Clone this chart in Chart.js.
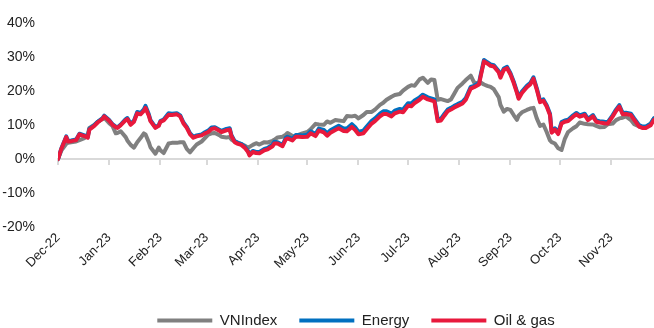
<!DOCTYPE html>
<html lang="en">
<head>
    <meta charset="UTF-8">
    <title>VNIndex vs Energy vs Oil & gas</title>
    <script src="https://cdn.jsdelivr.net/npm/chart.js"></script>
    <style>
        html, body { margin: 0; padding: 0; background: #fff; overflow: hidden; }
        .chart-box { position: relative; width: 654px; height: 328px; }
    </style>
</head>
<body>
    <div class="chart-box"><canvas id="perfChart"></canvas></div>

    <script>
        // days since 1 Dec 2022
        const days = [0, 2, 5, 6, 8, 11, 13, 16, 18, 19, 22, 24, 27, 28, 31, 33, 35, 36, 38, 41,
            42, 44, 46, 48, 50, 52, 53, 55, 56, 59, 61, 62, 64, 67, 69, 72, 74, 76, 78, 80,
            82, 84, 87, 89, 91, 93, 95, 98, 99, 102, 104, 105, 107, 109, 111, 113, 115, 116, 118, 120,
            122, 125, 127, 130, 131, 133, 136, 138, 139, 142, 144, 146, 148, 151, 153, 156, 158, 161, 163, 165,
            168, 170, 173, 175, 178, 180, 182, 185, 187, 190, 192, 195, 197, 199, 202, 204, 207, 209, 212, 214,
            216, 219, 221, 224, 226, 228, 230, 232, 234, 236, 238, 240, 242, 245, 247, 250, 252, 255, 256, 258,
            260, 262, 264, 267, 268, 270, 272, 274, 276, 278, 279, 281, 284, 286, 288, 290, 292, 294, 296, 298,
            299, 301, 303, 305, 307, 309, 312, 314, 316, 319, 321, 324, 326, 328, 331, 333, 336, 338, 340, 342,
            344, 347, 349, 352, 354, 356, 359, 361];

        const vnIndex = [0, 2.5, 4.5, 4.8, 5.0, 5.2, 5.6, 6.2, 7.2, 9.2, 10.1, 11.0, 11.8, 12.2, 10.6, 9.8, 7.6, 7.7, 8.2, 6.5,
            5.5, 4.2, 3.4, 5.0, 6.2, 7.6, 7.3, 5.0, 3.5, 1.6, 3.4, 2.6, 1.8, 4.6, 4.8, 4.8, 5.0, 5.0, 3.0, 2.0,
            3.2, 4.3, 5.2, 6.2, 7.2, 7.6, 7.7, 7.0, 6.6, 6.4, 6.5, 5.8, 5.2, 4.8, 4.4, 4.0, 3.4, 3.6, 4.2, 4.7,
            4.3, 5.0, 4.9, 5.4, 5.7, 6.4, 6.6, 7.2, 7.7, 6.8, 6.6, 7.2, 7.6, 8.0, 8.8, 10.4, 10.2, 10.1, 11.1, 10.7,
            11.5, 11.4, 11.2, 12.7, 12.6, 12.8, 12.0, 13.0, 13.9, 13.9, 14.6, 16.0, 16.6, 17.5, 18.4, 18.9, 19.2, 20.2, 21.3, 21.8,
            21.6, 23.5, 24.0, 22.5, 23.5, 23.3, 17.5, 17.7, 17.4, 17.1, 17.6, 19.3, 21.0, 22.3, 23.3, 24.6, 22.6, 22.2, 22.6, 22.0,
            21.6, 21.3, 20.6, 18.2, 16.0, 14.0, 14.8, 14.5, 13.0, 11.6, 12.8, 13.8, 14.5, 14.9, 15.1, 12.0, 9.8, 10.2, 8.0, 5.5,
            5.0, 4.6, 3.2, 2.7, 6.0, 8.0, 9.1, 9.7, 10.8, 10.4, 10.3, 10.2, 9.8, 9.4, 9.5, 10.3, 10.5, 11.5, 12.0, 12.2,
            12.6, 11.5, 10.3, 9.6, 9.3, 9.3, 10.5, 12.0];

        const energy = [0, 3.1, 6.7, 5.4, 5.5, 5.8, 7.5, 7.0, 6.5, 8.9, 10.0, 11.0, 12.1, 12.8, 11.5, 10.3, 9.6, 9.4, 10.2, 11.8,
            12.1, 10.4, 11.3, 13.9, 13.6, 14.7, 15.7, 13.2, 11.5, 9.4, 10.0, 11.2, 11.7, 13.5, 13.4, 13.5, 12.9, 10.8, 9.5, 7.6,
            6.6, 7.0, 7.3, 7.9, 8.4, 9.3, 9.4, 8.6, 8.3, 8.9, 9.1, 7.1, 5.3, 4.8, 4.5, 3.7, 2.5, 1.4, 2.4, 2.1,
            2.1, 3.0, 3.3, 4.3, 5.1, 5.0, 4.2, 6.3, 6.6, 6.0, 7.1, 7.1, 7.0, 7.2, 8.2, 7.4, 9.0, 8.6, 7.6, 8.5,
            9.3, 9.8, 9.0, 9.0, 10.3, 9.4, 8.1, 8.4, 9.6, 11.3, 12.0, 13.4, 14.1, 14.1, 13.4, 14.3, 14.8, 14.6, 16.5, 16.4,
            17.3, 18.2, 19.0, 18.2, 17.9, 17.6, 11.7, 11.9, 13.3, 14.6, 15.1, 15.7, 16.2, 16.9, 18.0, 21.3, 21.6, 22.4, 24.8, 29.2,
            28.6, 27.9, 27.7, 25.9, 24.4, 26.7, 27.2, 25.4, 22.9, 19.9, 18.2, 19.9, 21.6, 22.4, 24.1, 20.9, 17.2, 17.6, 15.9, 13.4,
            8.2, 9.1, 7.8, 10.9, 11.4, 11.6, 12.9, 13.6, 12.9, 13.4, 11.9, 13.0, 11.4, 11.2, 11.0, 10.9, 13.0, 14.6, 15.9, 13.6,
            13.7, 13.4, 12.0, 10.0, 9.6, 9.6, 10.4, 12.0];

        const oilGas = [0, 3.0, 6.5, 5.2, 5.3, 5.6, 7.3, 6.8, 6.3, 8.7, 9.8, 10.8, 11.9, 12.6, 11.3, 10.1, 9.4, 9.2, 10.0, 11.5,
            11.8, 10.1, 11.0, 13.5, 13.2, 14.2, 15.1, 12.8, 11.2, 9.2, 9.8, 11.0, 11.4, 13.1, 13.0, 13.2, 12.6, 10.5, 9.2, 7.3,
            6.3, 6.7, 7.0, 7.6, 8.0, 8.9, 9.1, 8.3, 8.0, 8.5, 8.7, 6.8, 5.0, 4.5, 4.2, 3.4, 2.2, 1.1, 2.1, 1.8,
            1.7, 2.6, 2.9, 3.8, 4.6, 4.6, 3.8, 5.8, 6.1, 5.5, 6.6, 6.6, 6.5, 6.6, 7.6, 6.8, 8.4, 7.9, 6.9, 7.8,
            8.6, 9.1, 8.3, 8.2, 9.5, 8.6, 7.3, 7.6, 8.8, 10.5, 11.2, 12.6, 13.3, 13.3, 12.6, 13.5, 14.0, 13.8, 15.7, 15.6,
            16.5, 17.5, 18.4, 17.6, 17.3, 17.0, 11.2, 11.4, 12.8, 14.1, 14.6, 15.2, 15.7, 16.4, 17.5, 20.8, 21.2, 22.0, 24.4, 28.8,
            28.2, 27.5, 27.3, 25.5, 24.0, 26.3, 26.8, 25.0, 22.5, 19.5, 17.8, 19.5, 21.2, 22.0, 23.7, 20.5, 16.8, 17.2, 15.5, 13.0,
            7.8, 8.7, 7.4, 10.5, 11.0, 11.2, 12.5, 13.2, 12.5, 13.0, 11.5, 12.6, 11.0, 10.8, 10.6, 10.5, 12.6, 14.2, 15.5, 13.2,
            13.3, 13.0, 11.6, 9.6, 9.2, 9.2, 10.0, 11.6];

        const monthStarts = [0, 31, 62, 90, 121, 151, 182, 212, 243, 274, 304, 335];
        const monthLabels = ['Dec-22', 'Jan-23', 'Feb-23', 'Mar-23', 'Apr-23', 'May-23',
            'Jun-23', 'Jul-23', 'Aug-23', 'Sep-23', 'Oct-23', 'Nov-23'];

        const FONT = "'Liberation Sans Narrow', 'Arial Narrow', 'Liberation Sans', sans-serif";
        const TEXT = '#222';
        const AXIS_GREY = '#d9d9d9';

        const toPoints = vals => days.map((d, i) => ({ x: d, y: vals[i] }));
        const monthTicks = axis => { axis.ticks = monthStarts.map(v => ({ value: v })); };

        // push the legend row down so it sits at the very bottom like the original
        const legendDown = {
            id: 'legendDown',
            beforeInit(chart) {
                const fit = chart.legend.fit;
                chart.legend.fit = function () {
                    fit.call(this);
                    this.height -= 10;
                };
            }
        };

        new Chart(document.getElementById('perfChart'), {
            type: 'line',
            data: {
                datasets: [
                    { label: 'VNIndex', data: toPoints(vnIndex), borderColor: '#808080', backgroundColor: '#808080', order: 3 },
                    { label: 'Energy', data: toPoints(energy), borderColor: '#0070c0', backgroundColor: '#0070c0', order: 2 },
                    { label: 'Oil & gas', data: toPoints(oilGas), borderColor: '#e8193c', backgroundColor: '#e8193c', order: 1 }
                ]
            },
            options: {
                responsive: true,
                maintainAspectRatio: false,
                animation: false,
                datasets: {
                    line: { borderWidth: 4, pointRadius: 0, tension: 0, borderJoinStyle: 'round', borderCapStyle: 'round' }
                },
                layout: { padding: { top: 23, right: 0, bottom: 0, left: 0 } },
                scales: {
                    x: {
                        type: 'linear',
                        min: 0,
                        max: 361,
                        position: 'bottom',
                        afterBuildTicks: monthTicks,
                        afterFit: s => { s.height = 64; },
                        ticks: {
                            autoSkip: false,
                            minRotation: 45,
                            maxRotation: 45,
                            padding: 3,
                            color: TEXT,
                            font: { family: FONT, size: 13 },
                            callback: v => monthLabels[monthStarts.indexOf(v)]
                        },
                        grid: { display: false, drawTicks: false },
                        border: { display: false }
                    },
                    zeroLine: {
                        type: 'linear',
                        axis: 'x',
                        min: 0,
                        max: 361,
                        position: { y: 0 },
                        afterBuildTicks: monthTicks,
                        ticks: { display: false },
                        grid: { drawOnChartArea: false, drawTicks: true, tickLength: 5, color: AXIS_GREY, lineWidth: 2 },
                        border: { color: AXIS_GREY, width: 2 }
                    },
                    y: {
                        min: -20,
                        max: 40,
                        afterFit: s => { s.width = 58; },
                        ticks: {
                            stepSize: 10,
                            padding: 15,
                            color: TEXT,
                            font: { family: FONT, size: 14 },
                            callback: v => v + '%'
                        },
                        grid: { display: false },
                        border: { display: false }
                    }
                },
                plugins: {
                    legend: {
                        position: 'bottom',
                        fullSize: false,
                        labels: {
                            boxWidth: 55,
                            boxHeight: 4,
                            padding: 22,
                            color: TEXT,
                            font: { family: FONT, size: 15 },
                            sort: (a, b) => a.datasetIndex - b.datasetIndex,
                            generateLabels: chart => Chart.defaults.plugins.legend.labels.generateLabels(chart)
                                .map(item => ({ ...item, lineWidth: 0 }))
                        }
                    },
                    tooltip: { enabled: false }
                }
            },
            plugins: [legendDown]
        });
    </script>
</body>
</html>
